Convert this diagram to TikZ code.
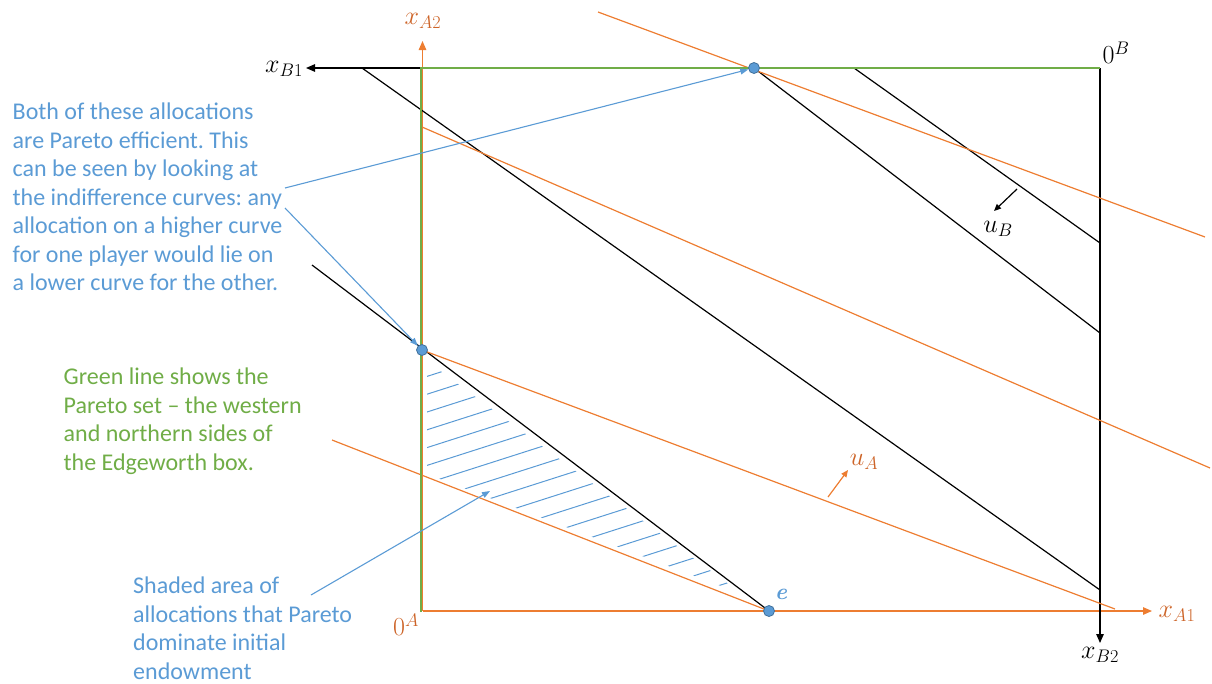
\documentclass[tikz,border=0pt]{standalone}
\usepackage{fix-cm}
\usepackage{fontspec}
\newfontfamily\calibri[Ligatures=TeX]{Carlito}
\usetikzlibrary{arrows.meta}
\definecolor{ublue}{HTML}{5B9BD5}
\definecolor{ugreen}{HTML}{70AD47}
\definecolor{uorange}{HTML}{ED7D31}
\definecolor{uorangetext}{RGB}{205,100,40}
\definecolor{ptedge}{HTML}{41719C}
\frenchspacing
\begin{document}
\begin{tikzpicture}[x=1pt,y=-1pt,
  axisA/.style={uorange, line width=1.3pt, -{Triangle[length=9pt,width=7.5pt]}},
  axisB/.style={black, line width=1.2pt, -{Triangle[length=9pt,width=7.5pt]}},
  icB/.style={black, line width=1.2pt},
  icA/.style={uorange, line width=1.2pt},
  pareto/.style={ugreen, line width=2.6pt},
  hatchline/.style={ublue, line width=1pt},
  alloc/.style={circle, fill=ublue, draw=ptedge, line width=0.8pt, inner sep=0pt, minimum size=11pt},
  note/.style={font=\calibri\fontsize{24}{28.5}\selectfont, align=left, anchor=north west, inner sep=0pt},
  callout/.style={ublue, line width=1.1pt, -{Triangle[length=8pt,width=6pt]}},
  lab/.style={inner sep=0pt, font=\fontsize{26}{30}\selectfont},
  dirA/.style={uorange, line width=1.2pt, -{Triangle[length=7pt,width=6pt]}},
  dirB/.style={black, line width=1.2pt, -{Triangle[length=7pt,width=6pt]}}]
\useasboundingbox (0,0) rectangle (1212,683);

% coordinates of the box
\coordinate (OA) at (422.5,611);
\coordinate (OB) at (1100,68);
\coordinate (xA1tip) at (1152,611);
\coordinate (xA2tip) at (422.5,41);
\coordinate (xB1tip) at (306,68);
\coordinate (xB2tip) at (1100,643);

% axes
\draw[axisA] (OA) -- (xA1tip);
\draw[axisA] (OA) -- (xA2tip);
\draw[axisB] (OB) -- (xB1tip);
\draw[axisB] (OB) -- (xB2tip);

% B indifference curves
\draw[icB] (362,68) -- (1100,590);
\draw[icB] (312,265) -- (769,611);
\draw[icB] (754,68) -- (1100,333);
\draw[icB] (854,68) -- (1100,243);

% A indifference curves
\draw[icA] (422,350) -- (1115,609);
\draw[icA] (332,440) -- (769,611);
\draw[icA] (422,127) -- (1210,468);
\draw[icA] (598,12) -- (1205,237);

% Pareto set
\draw[pareto] (421,612) -- (421,68) -- (1100,68);

% hatch
\begin{scope}
\clip (427,361) -- (427,474) -- (742,594) -- cycle;
\foreach \c in {378,395.8,...,716} \draw[hatchline] (415,{\c+2.24}) -- (800,{\c-120.96});
\end{scope}

% allocations
\node[alloc] (p1) at (754,68) {};
\node[alloc] (p2) at (422,350) {};
\node[alloc] (e) at (769,611) {};
\node[text=ublue, font=\fontsize{23}{26}\selectfont\bfseries\itshape, inner sep=0pt] (elab) at (781,594) {e};

% axis labels
\node[lab, text=uorangetext] (xA2) at (423,21) {$x_{A2}$};
\node[lab, text=uorangetext] (xA1) at (1177,614) {$x_{A1}$};
\node[lab] (xB1) at (284,69) {$x_{B1}$};
\node[lab] (xB2) at (1100,655) {$x_{B2}$};
\node[lab, text=uorangetext] (zA) at (406,625) {$0^{A}$};
\node[lab] (zB) at (1116,53) {$0^{B}$};

% utility directions
\coordinate (uAs) at (828,497);
\coordinate (uAt) at (848,470);
\draw[dirA] (uAs) -- (uAt);
\node[lab, text=uorangetext] (uA) at (864,462) {$u_{A}$};
\coordinate (uBs) at (1017,189);
\coordinate (uBt) at (994,211);
\draw[dirB] (uBs) -- (uBt);
\node[lab] (uB) at (998,229) {$u_{B}$};

% notes
\node[note, text=ublue] (n1) at (12.5,101.3) {\rule{0pt}{18pt}Both of these allocations\\are Pareto efficient. This\\can be seen by looking at\\the indifference curves: any\\allocation on a higher curve\\for one player would lie on\\a lower curve for the other.};
\node[note, text=ugreen] (n2) at (63.5,366.3) {\rule{0pt}{18pt}Green line shows the\\Pareto set – the western\\and northern sides of\\the Edgeworth box.};
\node[note, text=ublue] (n3) at (133,575.3) {\rule{0pt}{18pt}Shaded area of\\allocations that Pareto\\dominate initial\\endowment};

% callouts
\coordinate (c1a) at (285,188);
\coordinate (c1b) at (285,208);
\coordinate (c3) at (311,595);
\coordinate (c3t) at (490,491);
\draw[callout] (c1a) -- (p1);
\draw[callout] (c1b) -- (p2);
\draw[callout] (c3) -- (c3t);
\end{tikzpicture}
\end{document}
